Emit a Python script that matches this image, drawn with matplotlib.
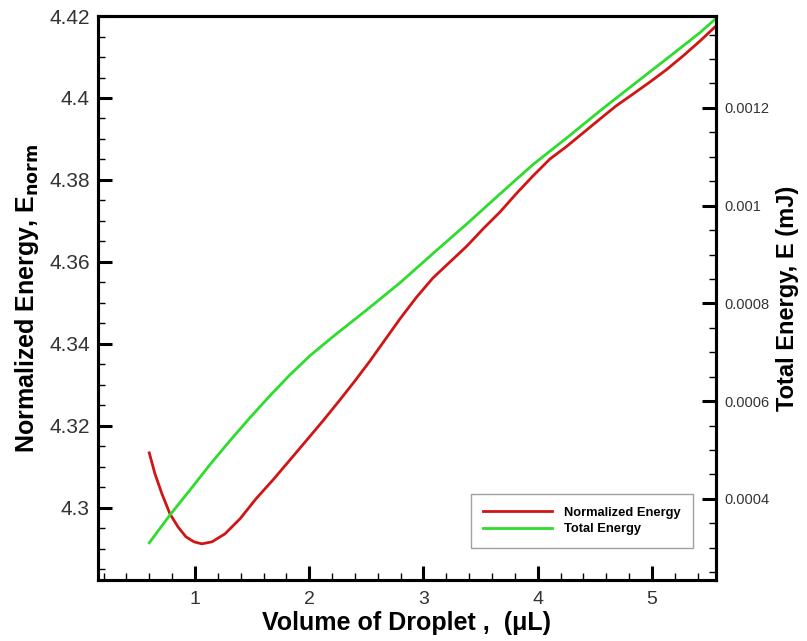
import matplotlib.pyplot as plt
from matplotlib.ticker import MultipleLocator, FormatStrFormatter

plt.rcParams['font.family'] = ['Liberation Sans', 'DejaVu Sans']

# values
vol_norm = [0.6, 0.65, 0.711, 0.781, 0.851, 0.921, 0.991, 1.061, 1.149,
            1.263, 1.394, 1.534, 1.683, 1.832, 1.98, 2.12, 2.269, 2.4,
            2.532, 2.663, 2.794, 2.934, 3.083, 3.232, 3.381, 3.521, 3.67,
            3.818, 3.958, 4.107, 4.247, 4.396, 4.545, 4.685, 4.834, 4.982,
            5.123, 5.271, 5.42, 5.56]
e_norm = [4.31341, 4.30829, 4.30341, 4.29854, 4.29537, 4.29293, 4.29171,
          4.29122, 4.29171, 4.29366, 4.29732, 4.3022, 4.30683, 4.31171,
          4.31659, 4.32122, 4.32634, 4.33098, 4.33585, 4.34098, 4.3461,
          4.35122, 4.3561, 4.36, 4.3639, 4.36805, 4.37219, 4.37683,
          4.38097, 4.38512, 4.38805, 4.39146, 4.39488, 4.39805, 4.40097,
          4.4039, 4.40683, 4.41024, 4.4139, 4.41756]

vol_tot = [0.6, 0.781, 0.956, 1.131, 1.306, 1.481, 1.656, 1.832, 2.007,
           2.208, 2.505, 2.794, 3.083, 3.381, 3.67, 3.958, 4.256, 4.545,
           4.834, 5.131, 5.42, 5.56]
e_tot = [0.00031, 0.000367, 0.000418, 0.00047, 0.000519, 0.000566,
         0.000611, 0.000654, 0.000693, 0.000732, 0.000787, 0.000842,
         0.000902, 0.000963, 0.001024, 0.001084, 0.001139, 0.001194,
         0.001247, 0.001301, 0.001354, 0.001383]

fig = plt.figure(figsize=(8.07, 6.41), dpi=100)
ax = fig.add_axes([0.1214, 0.0952, 0.7658, 0.8798])
ax2 = ax.twinx()

l1, = ax.plot(vol_norm, e_norm, color='#d01515', lw=2)
l2, = ax2.plot(vol_tot, e_tot, color='#2edc2e', lw=2)

ax.set_xlim(0.151, 5.56)
ax.set_ylim(4.2824, 4.42)
ax2.set_ylim(0.000234, 0.001388)

ax.xaxis.set_major_locator(MultipleLocator(1))
ax.xaxis.set_minor_locator(MultipleLocator(0.2))
ax.yaxis.set_major_locator(MultipleLocator(0.02))
ax.yaxis.set_minor_locator(MultipleLocator(0.005))
ax.yaxis.set_major_formatter(FormatStrFormatter('%g'))
ax2.yaxis.set_major_locator(MultipleLocator(0.0002))
ax2.yaxis.set_minor_locator(MultipleLocator(0.00005))
ax2.yaxis.set_major_formatter(FormatStrFormatter('%g'))

for a in (ax, ax2):
    for s in a.spines.values():
        s.set_linewidth(2.2)
ax.tick_params(which='major', direction='in', length=10, width=2.2,
               labelsize=15, labelcolor='#333333', pad=6)
ax.tick_params(which='minor', direction='in', length=5, width=1)
ax.tick_params(axis='x', labelsize=14, pad=8)
ax.tick_params(top=False, right=False, which='both')
ax2.tick_params(which='major', direction='in', length=10, width=2.2,
                labelsize=10.5, labelcolor='#333333', pad=6)
ax2.tick_params(which='minor', direction='in', length=5, width=1)

ax.set_xlabel('Volume of Droplet ,  (\u03bcL)', fontsize=18, fontweight='bold',
              labelpad=2)
ax.set_ylabel('Normalized Energy, E$_{\\mathbf{norm}}$', fontsize=18,
              fontweight='bold', labelpad=6)
ax2.set_ylabel('Total Energy, E (mJ)', fontsize=17, fontweight='bold',
               labelpad=5)

leg = ax2.legend([l1, l2], ['Normalized Energy', 'Total Energy'],
                 loc='lower right', bbox_to_anchor=(0.963, 0.0567),
                 borderaxespad=0, fancybox=False, edgecolor='#888888',
                 handlelength=5.3, handletextpad=0.9, labelspacing=0.35,
                 borderpad=1.0, prop={'weight': 'bold', 'size': 9.3})
leg.get_frame().set_linewidth(1)

fig.savefig('out.png', dpi=100)
